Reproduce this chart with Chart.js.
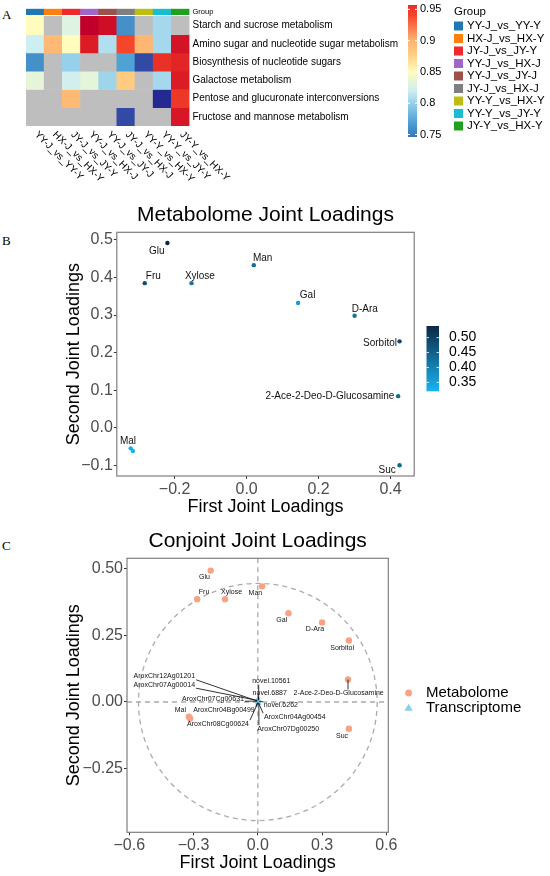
<!DOCTYPE html>
<html lang="en">
<head>
<meta charset="UTF-8">
<title>Joint loadings</title>
<script src="https://cdn.jsdelivr.net/npm/chart.js@4.4.1/dist/chart.umd.min.js"></script>
<style>
  html, body { margin: 0; padding: 0; background: #fff; }
  body { position: relative; width: 550px; height: 876px; overflow: hidden; }
  canvas { position: absolute; left: 0; }
  .tag { position: absolute; left: 2px; font: 13px "Liberation Serif", "Times New Roman", serif; line-height: 14px; }
</style>
</head>
<body>
<div class="tag" style="top:8px">A</div>
<div class="tag" style="top:234px">B</div>
<div class="tag" style="top:539px">C</div>
<canvas id="heat" width="550" height="190" style="top:0"></canvas>
<canvas id="metab" width="550" height="335" style="top:185px"></canvas>
<canvas id="conjoint" width="550" height="356" style="top:520px"></canvas>
<script>
// ---- panel A: pathway heatmap ----
const pathways = ['Starch and sucrose metabolism', 'Amino sugar and nucleotide sugar metabolism',
  'Biosynthesis of nucleotide sugars', 'Galactose metabolism',
  'Pentose and glucuronate interconversions', 'Fructose and mannose metabolism'];
const comparisons = ['YY-J_vs_YY-Y', 'HX-J_vs_HX-Y', 'JY-J_vs_JY-Y', 'YY-J_vs_HX-J', 'YY-J_vs_JY-J',
  'JY-J_vs_HX-J', 'YY-Y_vs_HX-Y', 'YY-Y_vs_JY-Y', 'JY-Y_vs_HX-Y'];
const comparisonColors = ['#1F78B4', '#FF7F0E', '#F0282C', '#A066C8', '#9C514B', '#7F7F7F', '#BDBD12', '#17BECF', '#1FA01F'];
// null = not enriched (grey cell)
const starchSucrose    = [0.85, null, 0.83, 1.00, 0.985, 0.76, null, 0.805, null];
const aminoSugar       = [0.82, 0.895, 0.85, 0.97, 0.81, 0.94, 0.897, 0.805, 0.98];
const nucleotideSugars = [0.76, null, 0.80, null, null, 0.77, 0.73, 0.955, 0.963];
const galactose        = [0.835, null, 0.823, 0.834, 0.803, 0.88, null, 0.805, 0.97];
const pentose          = [null, null, 0.895, null, null, null, null, 0.70, 0.95];
const fructoseMannose  = [null, null, null, null, null, 0.73, null, null, 0.975];
const heatTicks = [0.75, 0.8, 0.85, 0.9, 0.95];

// ---- panel B / C: metabolite joint loadings ----
const metabolites = ['Glu', 'Fru', 'Xylose', 'Man', 'Gal', 'D-Ara', 'Sorbitol', '2-Ace-2-Deo-D-Glucosamine', 'Suc', 'Mal', 'Mal'];
const firstJoint  = [-0.220, -0.283, -0.153, 0.020, 0.143, 0.300, 0.425, 0.421, 0.425, -0.322, -0.316];
const secondJoint = [0.492, 0.385, 0.385, 0.433, 0.332, 0.298, 0.230, 0.084, -0.100, -0.055, -0.062];
const loadingSize = [0.54, 0.48, 0.415, 0.433, 0.36, 0.424, 0.485, 0.432, 0.44, 0.33, 0.325];
const sizeTicks = [0.35, 0.40, 0.45, 0.50];
const bTicksX = [-0.2, 0, 0.2, 0.4];
const bTicksY = [-0.1, 0, 0.1, 0.2, 0.3, 0.4, 0.5];

// ---- panel C: transcriptome genes ----
const genes = ['AroxChr12Ag01201', 'AroxChr07Ag00014', 'AroxChr07Cg00631', 'AroxChr04Bg00499', 'AroxChr08Cg00624',
  'novel.10561', 'novel.6887', 'novel.6262', 'AroxChr04Ag00454', 'AroxChr07Dg00250'];
const geneFirst  = [-0.004, -0.003, -0.002, -0.001, 0.000, 0.004, 0.002, 0.006, 0.003, 0.005];
const geneSecond = [0.004, 0.006, 0.003, -0.002, -0.004, 0.008, 0.006, 0.002, -0.003, -0.005];
const cTicksX = [-0.6, -0.3, 0, 0.3, 0.6];
const cTicksY = [-0.25, 0, 0.25, 0.5];

// label placement (pixel offsets from the point, like ggrepel output)
const labelShiftB = [[-10.6, 7.9], [8.6, -6.9], [8.4, -6.9], [8.9, -6.9], [9.5, -7.4], [10.2, -6.9],
  [-19.6, 1.6], [-68.2, 0.5], [-12.4, 4.8], [-2.7, -6.6], null];
const labelShiftC = [[-6.2, 6.7], [6.9, -6.9], [6.5, -6.9], [-6.7, 6.9], [-6.7, 6.6], [-7.1, 6.9],
  [-6.8, 7.1], [-9.4, 13.4], [-6.8, 7.3], [-8.4, -6.4], null];
const geneShift = [[-92.6, -24.6], [-92.9, -15.7], [-44.4, -2.5], [-33.6, 7.8], [-39.8, 20.6],
  [12.6, -18.6], [11.5, -7.4], [21.7, 3.2], [36.4, 13.9], [29.3, 25.4]];

const FONT = '"Liberation Sans", Arial, sans-serif';
Chart.defaults.font.family = FONT;
Chart.defaults.color = '#000';

const heatStops = [[0.70, '#252A92'], [0.73, '#3349A6'], [0.75, '#3A7DBE'], [0.77, '#4FA3D4'], [0.80, '#97D0EA'],
  [0.82, '#CDEEF3'], [0.85, '#FFFCBE'], [0.88, '#FFCB80'], [0.90, '#FDB470'], [0.94, '#F6462A'],
  [0.97, '#DC1C24'], [1.00, '#C0002A']];
const blueStops = [[0.32, '#18B4F3'], [0.54, '#0C2742']];

function hexRgb(h) {
  const n = parseInt(h.slice(1), 16);
  return [n >> 16 & 255, n >> 8 & 255, n & 255];
}
function ramp(stops, v) {
  if (v <= stops[0][0]) return stops[0][1];
  for (let i = 1; i < stops.length; i++) {
    if (v <= stops[i][0]) {
      const [v0, c0] = stops[i - 1], [v1, c1] = stops[i];
      const t = (v - v0) / (v1 - v0), a = hexRgb(c0), b = hexRgb(c1);
      return 'rgb(' + a.map((x, k) => Math.round(x + (b[k] - x) * t)).join(',') + ')';
    }
  }
  return stops[stops.length - 1][1];
}
const fmt = d => v => (v < 0 ? '\u2212' : '') + Math.abs(v).toFixed(d);

// ================= A =================
const heatRows = [starchSucrose, aminoSugar, nucleotideSugars, galactose, pentose, fructoseMannose];

const heatDecor = {
  id: 'heatDecor',
  afterDatasetsDraw(chart) {
    const {ctx, chartArea: a, scales: {x, y}} = chart;
    ctx.save();
    ctx.fillStyle = '#000';
    ctx.textBaseline = 'middle';
    ctx.textAlign = 'left';
    ctx.font = '10px ' + FONT;
    pathways.forEach((p, r) => ctx.fillText(p, a.right + 3, y.getPixelForValue(r + 0.5)));
    ctx.font = '7.5px ' + FONT;
    ctx.fillText('Group', a.right + 3, y.getPixelForValue(-0.26));
    ctx.font = '10px ' + FONT;
    comparisons.forEach((c, i) => {
      ctx.save();
      ctx.translate(x.getPixelForValue(i) + 1, a.bottom + 7);
      ctx.rotate(Math.PI / 4);
      ctx.fillText(c, 0, 0);
      ctx.restore();
    });

    // colour key
    const kTop = 5, kBot = 137, kLo = 0.746, kHi = 0.957, kx = 408, kw = 9;
    const g = ctx.createLinearGradient(0, kBot, 0, kTop);
    for (let k = 0; k <= 40; k++) g.addColorStop(k / 40, ramp(heatStops, kLo + (kHi - kLo) * k / 40));
    ctx.fillStyle = g;
    ctx.fillRect(kx, kTop, kw, kBot - kTop);
    ctx.font = '11px ' + FONT;
    heatTicks.forEach(v => {
      const yy = kBot - (v - kLo) / (kHi - kLo) * (kBot - kTop);
      ctx.strokeStyle = '#fff';
      ctx.lineWidth = 1;
      ctx.beginPath();
      ctx.moveTo(kx, yy); ctx.lineTo(kx + 2, yy);
      ctx.moveTo(kx + kw - 2, yy); ctx.lineTo(kx + kw, yy);
      ctx.stroke();
      ctx.fillStyle = '#000';
      ctx.fillText(String(v), kx + kw + 3, yy);
    });

    // group legend
    ctx.font = '11.5px ' + FONT;
    ctx.fillText('Group', 454, 12);
    comparisons.forEach((c, i) => {
      const yy = 26 + 12.5 * i;
      ctx.fillStyle = comparisonColors[i];
      ctx.fillRect(454, yy - 4.5, 9, 9);
      ctx.fillStyle = '#000';
      ctx.fillText(c, 467, yy);
    });
    ctx.restore();
  }
};

new Chart(document.getElementById('heat'), {
  type: 'bar',
  data: {
    labels: comparisons,
    datasets: [
      {label: 'Group', data: comparisons.map(() => [-0.42, -0.09]), backgroundColor: comparisonColors},
      ...heatRows.map((vals, r) => ({
        label: pathways[r],
        data: vals.map(() => [r, r + 1]),
        backgroundColor: vals.map(v => v == null ? '#BEBEBE' : ramp(heatStops, v))
      }))
    ]
  },
  options: {
    responsive: false,
    animation: false,
    layout: {padding: {left: 26, right: 360.5, top: 8.7, bottom: 64}},
    datasets: {bar: {barPercentage: 1, categoryPercentage: 1, borderWidth: 0}},
    scales: {
      x: {display: false, stacked: true},
      y: {display: false, min: -0.42, max: 6, reverse: true}
    },
    plugins: {legend: {display: false}, tooltip: {enabled: false}}
  },
  plugins: [heatDecor]
});

// ================= shared helpers for B / C =================
function panelBorder(chart) {
  const {ctx, chartArea: a} = chart;
  ctx.save();
  ctx.strokeStyle = '#7F7F7F';
  ctx.lineWidth = 1.2;
  ctx.strokeRect(a.left, a.top, a.right - a.left, a.bottom - a.top);
  ctx.restore();
}

function drawPointLabels(chart, dsIndex, names, shifts, size, minSeg) {
  const {ctx} = chart;
  const pts = chart.getDatasetMeta(dsIndex).data;
  ctx.save();
  ctx.font = size + 'px ' + FONT;
  ctx.textAlign = 'center';
  ctx.textBaseline = 'middle';
  names.forEach((n, i) => {
    const s = shifts[i];
    if (!s) return;
    const px = pts[i].x, py = pts[i].y;
    const cx = px + s[0], cy = py + s[1];
    if (minSeg != null) {
      const w = ctx.measureText(n).width / 2 + 1, h = size / 2;
      const nx = Math.min(Math.max(px, cx - w), cx + w);
      const ny = Math.min(Math.max(py, cy - h), cy + h);
      if (Math.hypot(px - nx, py - ny) > minSeg) {
        ctx.strokeStyle = '#000';
        ctx.lineWidth = 0.8;
        ctx.beginPath();
        ctx.moveTo(px, py);
        ctx.lineTo(nx, ny);
        ctx.stroke();
      }
    }
    ctx.fillStyle = '#111';
    ctx.fillText(n, cx, cy);
  });
  ctx.restore();
}

function axisOpts(min, max, ticks, dec, title, fit, titlePad) {
  return {
    type: 'linear', min, max,
    afterBuildTicks: s => { s.ticks = ticks.map(v => ({value: v})); },
    afterFit: fit,
    ticks: {callback: fmt(dec), font: {size: 16}, color: '#4D4D4D', padding: 1},
    grid: {drawOnChartArea: false, drawTicks: true, tickLength: 3, color: '#333'},
    border: {display: false},
    title: {display: true, text: title, font: {size: 18}, color: '#000', padding: titlePad}
  };
}

// ================= B =================
const metabDecor = {
  id: 'metabDecor',
  afterDatasetsDraw(chart) {
    panelBorder(chart);
    drawPointLabels(chart, 0, metabolites, labelShiftB, 10, null);
    const {ctx} = chart;
    // colour bar for loading size
    const top = 141, bot = 206.3, lo = 0.32, hi = 0.539, x0 = 426.5, w = 12.5;
    const g = ctx.createLinearGradient(0, bot, 0, top);
    for (let k = 0; k <= 20; k++) g.addColorStop(k / 20, ramp(blueStops, lo + (hi - lo) * k / 20));
    ctx.save();
    ctx.fillStyle = g;
    ctx.fillRect(x0, top, w, bot - top);
    ctx.font = '14px ' + FONT;
    ctx.textBaseline = 'middle';
    ctx.textAlign = 'left';
    sizeTicks.forEach(v => {
      const yy = bot - (v - lo) / (hi - lo) * (bot - top);
      ctx.strokeStyle = 'rgba(255,255,255,0.8)';
      ctx.lineWidth = 1;
      ctx.beginPath();
      ctx.moveTo(x0, yy); ctx.lineTo(x0 + 2.5, yy);
      ctx.moveTo(x0 + w - 2.5, yy); ctx.lineTo(x0 + w, yy);
      ctx.stroke();
      ctx.fillStyle = '#000';
      ctx.fillText(v.toFixed(2), 449, yy);
    });
    ctx.restore();
  }
};

new Chart(document.getElementById('metab'), {
  type: 'scatter',
  data: {
    datasets: [{
      label: 'Metabolome',
      data: metabolites.map((m, i) => ({x: firstJoint[i], y: secondJoint[i]})),
      pointBackgroundColor: loadingSize.map(v => ramp(blueStops, v)),
      pointBorderWidth: 0,
      pointRadius: 2.2
    }]
  },
  options: {
    responsive: false,
    animation: false,
    layout: {padding: {left: 0, right: 135.8, top: 0, bottom: 0}},
    scales: {
      x: axisOpts(-0.3606, 0.4656, bTicksX, 1, 'First Joint Loadings', s => { s.height = 44; }, {top: 0, bottom: 2.5}),
      y: axisOpts(-0.1287, 0.5205, bTicksY, 1, 'Second Joint Loadings', s => { s.width = 116.8; }, {top: 62.9, bottom: 0})
    },
    plugins: {
      legend: {display: false},
      tooltip: {enabled: false},
      title: {display: true, text: 'Metabolome Joint Loadings', fullSize: false, color: '#000',
        font: {size: 21, weight: 'normal'}, padding: {top: 17.4, bottom: 4.7}}
    }
  },
  plugins: [metabDecor]
});

// ================= C =================
const circleRX = 0.557, circleRY = 0.444;

const conjointDecor = {
  id: 'conjointDecor',
  beforeDatasetsDraw(chart) {
    const {ctx, chartArea: a, scales: {x, y}} = chart;
    const x0 = x.getPixelForValue(0), y0 = y.getPixelForValue(0);
    ctx.save();
    ctx.strokeStyle = '#ABABAB';
    ctx.lineWidth = 1.3;
    ctx.setLineDash([5, 4]);
    ctx.beginPath();
    ctx.moveTo(x0, a.top); ctx.lineTo(x0, a.bottom);
    ctx.moveTo(a.left, y0); ctx.lineTo(a.right, y0);
    ctx.stroke();
    ctx.beginPath();
    ctx.ellipse(x0, y0, x.getPixelForValue(circleRX) - x0, y0 - y.getPixelForValue(circleRY), 0, 0, Math.PI * 2);
    ctx.stroke();
    ctx.restore();
  },
  afterDatasetsDraw(chart) {
    panelBorder(chart);
    drawPointLabels(chart, 0, metabolites, labelShiftC, 7, 6);
    drawPointLabels(chart, 1, genes, geneShift, 7, 3);
    const {ctx} = chart;
    ctx.save();
    ctx.font = '15px ' + FONT;
    ctx.textBaseline = 'middle';
    ctx.textAlign = 'left';
    chart.data.datasets.forEach((ds, i) => {
      const yy = 173 + 14.7 * i, xx = 408.6;
      ctx.fillStyle = ds.backgroundColor;
      ctx.beginPath();
      if (ds.pointStyle === 'triangle') {
        ctx.moveTo(xx, yy - 4); ctx.lineTo(xx + 4.2, yy + 3); ctx.lineTo(xx - 4.2, yy + 3); ctx.closePath();
      } else {
        ctx.arc(xx, yy, 3.4, 0, Math.PI * 2);
      }
      ctx.fill();
      ctx.fillStyle = '#000';
      ctx.fillText(ds.label, 426, yy);
    });
    ctx.restore();
  }
};

new Chart(document.getElementById('conjoint'), {
  type: 'scatter',
  data: {
    datasets: [
      {
        label: 'Metabolome',
        data: metabolites.map((m, i) => ({x: firstJoint[i], y: secondJoint[i]})),
        backgroundColor: '#F7A284', pointBackgroundColor: '#F7A284',
        pointBorderWidth: 0, pointRadius: 3.2, pointStyle: 'circle'
      },
      {
        label: 'Transcriptome',
        data: genes.map((g, i) => ({x: geneFirst[i], y: geneSecond[i]})),
        backgroundColor: '#87CEEB', pointBackgroundColor: '#87CEEB',
        pointBorderWidth: 0, pointRadius: 3, pointStyle: 'triangle'
      }
    ]
  },
  options: {
    responsive: false,
    animation: false,
    layout: {padding: {left: 0, right: 161.7, top: 0, bottom: 0}},
    scales: {
      x: axisOpts(-0.6106, 0.609, cTicksX, 1, 'First Joint Loadings', s => { s.height = 43.7; }, {top: 0, bottom: 1.9}),
      y: axisOpts(-0.488, 0.538, cTicksY, 2, 'Second Joint Loadings', s => { s.width = 127; }, {top: 62.9, bottom: 0})
    },
    plugins: {
      legend: {display: false},
      tooltip: {enabled: false},
      title: {display: true, text: 'Conjoint Joint Loadings', fullSize: false, color: '#000',
        font: {size: 21, weight: 'normal'}, padding: {top: 9.1, bottom: 4.0}}
    }
  },
  plugins: [conjointDecor]
});
</script>
</body>
</html>
